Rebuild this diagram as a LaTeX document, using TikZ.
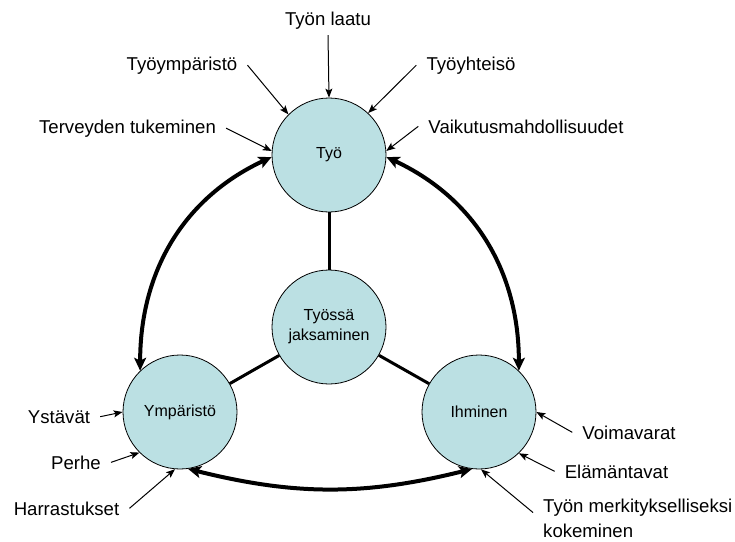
\documentclass[tikz,border=0pt]{standalone}
\usepackage{fontspec}
\setmainfont{Liberation Sans}
\usetikzlibrary{arrows.meta}
\definecolor{ringfill}{RGB}{187,224,227}

\begin{document}
\begin{tikzpicture}[x=1pt,y=-1pt,
  ring/.style={circle,draw,line width=0.8pt,fill=ringfill,minimum size=114pt,inner sep=0pt,align=center,font=\fontsize{16pt}{20pt}\selectfont},
  lbl/.style={inner xsep=10pt,inner ysep=6pt,font=\fontsize{18.6pt}{25pt}\selectfont},
  feed/.style={-{Stealth[length=9pt,width=7pt,inset=2pt]},line width=1pt},
  link/.style={{Stealth[length=13pt,width=12pt,inset=3pt]}-{Stealth[length=13pt,width=12pt,inset=3pt]},line width=4pt},
  spoke/.style={line width=3pt}]
\useasboundingbox (0,0) rectangle (735,541);
  %\draw[help lines,step=50] (0,0) grid (735,541);
\path
(329,155) node [ring] (tyo) {Työ}
(180,412) node [ring] (ymp) {Ympäristö}
(479,412) node [ring] (ihm) {Ihminen}
(329,327) node [ring] (jaks) {Työssä\\jaksaminen}
;
\path
(328,25) node [lbl,anchor=base] (laatu) {Työn laatu}
(182,70) node [lbl,anchor=base] (tymp) {Työympäristö}
(127.5,133) node [lbl,anchor=base] (terv) {Terveyden tukeminen}
(471,70) node [lbl,anchor=base] (tyht) {Työyhteisö}
(526,133) node [lbl,anchor=base] (vaik) {Vaikutusmahdollisuudet}
(59,423) node [lbl,anchor=base] (ystav) {Ystävät}
(76,469) node [lbl,anchor=base] (perhe) {Perhe}
(66.5,515) node [lbl,anchor=base] (harr) {Harrastukset}
(629,439) node [lbl,anchor=base] (voima) {Voimavarat}
(616.5,478) node [lbl,anchor=base] (elam) {Elämäntavat}
(533,493) node [lbl,anchor=north west,align=left] (merk) {Työn merkitykselliseksi\\kokeminen}
;
\draw[spoke] (tyo) -- (jaks);
\draw[spoke] (ymp) -- (jaks);
\draw[spoke] (ihm) -- (jaks);
\draw[link] (tyo.182) to[out=205,in=90] (ymp.134);
\draw[link] (tyo.-2) to[out=-25,in=90] (ihm.46);
\draw[link] (ymp.-82) to[bend right=14] (ihm.-97);
\draw[feed] (laatu.south) -- (tyo.north);
\draw[feed] (tymp.east) -- (tyo.135);
\draw[feed] (terv.east) -- (tyo.176);
\draw[feed] (tyht.west) -- (tyo.47);
\draw[feed] (vaik.west) -- (tyo.4);
\draw[feed] (ystav.east) -- (ymp.180);
\draw[feed] (perhe.east) -- (ymp.225);
\draw[feed] (harr.east) -- (ymp.265);
\draw[feed] (voima.west) -- (ihm.0);
\draw[feed] (elam.west) -- (ihm.-46);
\draw[feed] ([yshift=6pt]merk.west) -- (ihm.-88);
\end{tikzpicture}
\end{document}
